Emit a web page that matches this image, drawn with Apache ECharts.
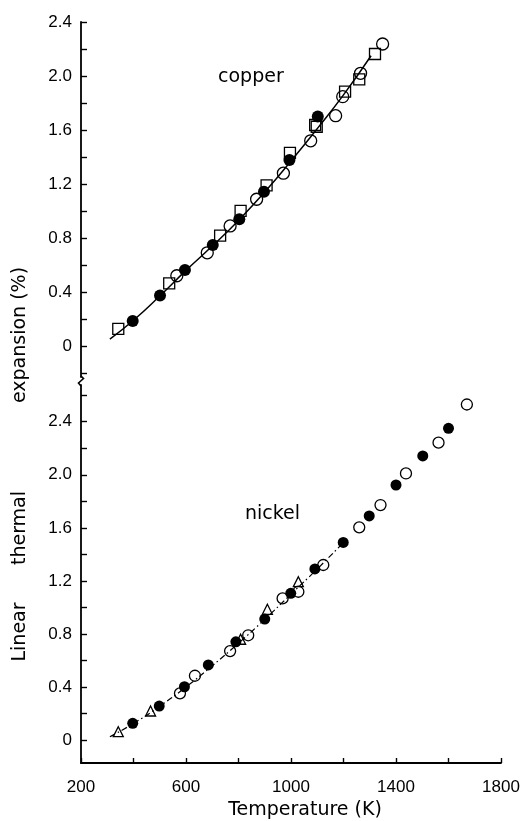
<!DOCTYPE html>
<html>
<head>
<meta charset="utf-8">
<script src="https://cdn.jsdelivr.net/npm/echarts@6/dist/echarts.min.js"></script>
<style>html,body{margin:0;padding:0;background:#fff}#c{width:528px;height:821px}</style>
</head>
<body>
<div id="c"></div>
<script>
// ---- data (Temperature K, linear thermal expansion %) ----
var copperFilled = [[397,0.185],[501,0.373],[596,0.563],[702,0.748],[803,0.938],[897,1.143],[994,1.378],[1102,1.70]];
var copperOpen = [[565,0.52],[681,0.69],[768,0.889],[869,1.087],[971,1.28],[1075,1.52],[1170,1.706],[1197,1.847],[1265,2.02],[1349,2.237]];
var copperSquare = [[342,0.126],[536,0.464],[730,0.817],[808,1.0],[907,1.19],[996,1.43],[1092,1.637],[1098,1.624],[1206,1.884],[1260,1.975],[1320,2.163]];
var copperCurve = [[310,0.05],[400,0.19],[500,0.37],[600,0.56],[700,0.74],[800,0.93],[900,1.14],[1000,1.37],[1100,1.61],[1200,1.86],[1305,2.15]];

var nickelFilled = [[397,0.126],[498,0.256],[594,0.402],[685,0.566],[790,0.741],[900,0.912],[999,1.106],[1091,1.29],[1199,1.49],[1298,1.69],[1400,1.923],[1502,2.142],[1600,2.35]];
var nickelOpen = [[577,0.352],[634,0.485],[768,0.671],[837,0.79],[968,1.068],[1028,1.118],[1123,1.32],[1260,1.604],[1341,1.772],[1438,2.01],[1562,2.242],[1670,2.53]];
var nickelTriangle = [[342,0.063],[465,0.219],[808,0.76],[910,0.986],[1028,1.194]];
var nickelCurve = [[310,0.025],[400,0.125],[500,0.255],[600,0.40],[700,0.56],[800,0.73],[900,0.91],[1000,1.10],[1100,1.29],[1200,1.49]];

var xLabels = [200,600,1000,1400,1800];
var copperYTicks = [-0.2,0,0.2,0.4,0.6,0.8,1.0,1.2,1.4,1.6,1.8,2.0,2.2,2.4];
var copperYLabels = [0,0.4,0.8,1.2,1.6,2.0,2.4];
var nickelYTicks = [0,0.2,0.4,0.6,0.8,1.0,1.2,1.4,1.6,1.8,2.0,2.2,2.4,2.6];
var nickelYLabels = [0,0.4,0.8,1.2,1.6,2.0,2.4];

var INK = '#000';
var TICKFONT = 'Liberation Sans';

function fmt(v){ return v === 0 ? '0' : v.toFixed(1); }

function yAxisCfg(gi, min, max, ticks, labels){
  return {
    type: 'value', gridIndex: gi, min: min, max: max,
    axisLine: {show: true, lineStyle: {color: INK, width: 1.8}},
    axisTick: {show: true, inside: true, length: 6, lineStyle: {color: INK, width: 1.4}, customValues: ticks},
    axisLabel: {show: true, margin: 9, color: INK, fontFamily: TICKFONT, fontSize: 17, formatter: fmt, customValues: labels},
    splitLine: {show: false}
  };
}

var openStyle = {color: 'rgba(255,255,255,0)', borderColor: INK, borderWidth: 1.3, opacity: 1};
var fillStyle = {color: INK, opacity: 1};

var chart = echarts.init(document.getElementById('c'), null, {renderer: 'canvas'});
chart.setOption({
  animation: false,
  backgroundColor: '#fff',
  grid: [
    {left: 81, right: 27, top: 22, height: 355},
    {left: 81, right: 27, top: 385, height: 378}
  ],
  xAxis: [
    {type: 'value', gridIndex: 0, min: 200, max: 1800, show: false},
    {type: 'value', gridIndex: 1, min: 200, max: 1800, interval: 200,
     axisLine: {show: true, onZero: false, lineStyle: {color: INK, width: 1.8}},
     axisTick: {show: true, inside: true, length: 5, lineStyle: {color: INK, width: 1.4}},
     axisLabel: {show: true, margin: 16, color: INK, fontFamily: TICKFONT, fontSize: 17,
                 customValues: xLabels, formatter: function(v){ return String(v); }},
     splitLine: {show: false}}
  ],
  yAxis: [
    yAxisCfg(0, -0.23, 2.4, copperYTicks, copperYLabels),
    yAxisCfg(1, -0.173, 2.677, nickelYTicks, nickelYLabels)
  ],
  series: [
    {type: 'line', xAxisIndex: 0, yAxisIndex: 0, data: copperCurve, smooth: true, symbol: 'none',
     lineStyle: {color: INK, width: 1.5}, z: 1},
    {type: 'scatter', xAxisIndex: 0, yAxisIndex: 0, data: copperSquare, symbol: 'rect', symbolSize: 11, itemStyle: openStyle, z: 3},
    {type: 'scatter', xAxisIndex: 0, yAxisIndex: 0, data: copperOpen, symbol: 'circle', symbolSize: 12, itemStyle: openStyle, z: 3},
    {type: 'scatter', xAxisIndex: 0, yAxisIndex: 0, data: copperFilled, symbol: 'circle', symbolSize: 12, itemStyle: fillStyle, z: 4},

    {type: 'line', xAxisIndex: 1, yAxisIndex: 1, data: nickelCurve, smooth: true, symbol: 'none',
     lineStyle: {color: INK, width: 1.2, type: [6, 3, 1.5, 3]}, z: 1},
    {type: 'scatter', xAxisIndex: 1, yAxisIndex: 1, data: nickelTriangle, symbol: 'triangle', symbolSize: 10, itemStyle: openStyle, z: 3},
    {type: 'scatter', xAxisIndex: 1, yAxisIndex: 1, data: nickelOpen, symbol: 'circle', symbolSize: 11, itemStyle: openStyle, z: 3},
    {type: 'scatter', xAxisIndex: 1, yAxisIndex: 1, data: nickelFilled, symbol: 'circle', symbolSize: 11, itemStyle: fillStyle, z: 4}
  ],
  graphic: [
    {type: 'polyline', z: 10, shape: {points: [[81,376],[83.5,378.5],[78.5,383],[81,386]]},
     style: {stroke: INK, lineWidth: 1.6, fill: null}},
    {type: 'text', x: 218, y: 77, style: {text: 'copper', font: '19px "DejaVu Sans"', fill: INK, textAlign: 'left', textVerticalAlign: 'middle'}},
    {type: 'text', x: 245, y: 514, style: {text: 'nickel', font: '19px "DejaVu Sans"', fill: INK, textAlign: 'left', textVerticalAlign: 'middle'}},
    {type: 'text', x: 305, y: 810, style: {text: 'Temperature (K)', font: '19px "DejaVu Sans"', fill: INK, textAlign: 'center', textVerticalAlign: 'middle'}},
    {type: 'text', x: 20, y: 632, rotation: Math.PI/2, style: {text: 'Linear', font: '19px "DejaVu Sans"', fill: INK, textAlign: 'center', textVerticalAlign: 'middle'}},
    {type: 'text', x: 20, y: 528, rotation: Math.PI/2, style: {text: 'thermal', font: '19px "DejaVu Sans"', fill: INK, textAlign: 'center', textVerticalAlign: 'middle'}},
    {type: 'text', x: 20, y: 335, rotation: Math.PI/2, style: {text: 'expansion (%)', font: '19px "DejaVu Sans"', fill: INK, textAlign: 'center', textVerticalAlign: 'middle'}}
  ]
});
</script>
</body>
</html>
